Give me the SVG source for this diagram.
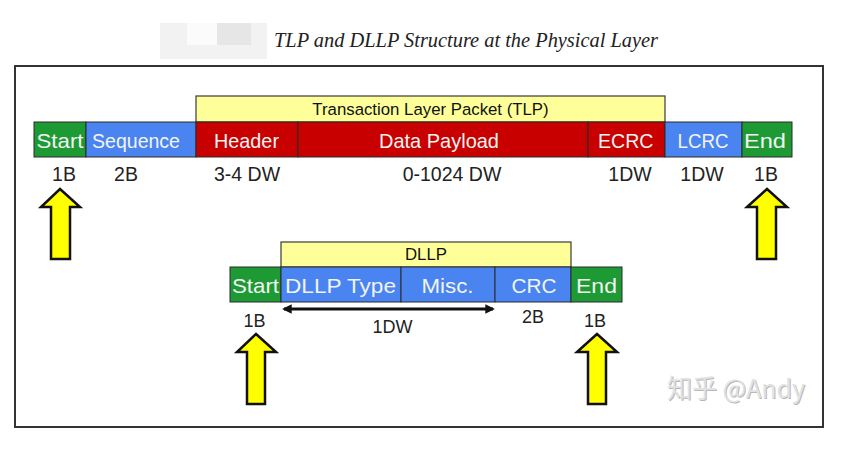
<svg xmlns="http://www.w3.org/2000/svg" width="843" height="451" viewBox="0 0 843 451">
<style>
  .cell{stroke:#2a2a2a;stroke-width:1}
  .g{fill:#1e9a34}
  .b{fill:#4a84f0}
  .r{fill:#c80000}
  .y{fill:#ffff99;stroke:#3a3a3a;stroke-width:1.2}
  .ct{font-family:"Liberation Sans",Arial,sans-serif;font-size:21px;fill:#f2f4f2}
  .hd{font-family:"Liberation Sans",Arial,sans-serif;font-size:16.8px;fill:#111}
  .lb{font-family:"Liberation Sans",Arial,sans-serif;font-size:19.5px;fill:#222;text-anchor:middle}
  .lb2{font-family:"Liberation Sans",Arial,sans-serif;font-size:18px;fill:#222;text-anchor:middle}
  .arr{fill:#ffff00;stroke:#111;stroke-width:2.5;stroke-linejoin:miter}
</style>
<defs>
  <marker id="ah" viewBox="0 0 10 10" refX="8" refY="5" markerWidth="3.2" markerHeight="3.2" orient="auto-start-reverse">
    <path d="M0,0 L10,5 L0,10 z" fill="#111"/>
  </marker>
</defs>
<rect width="843" height="451" fill="#ffffff"/>

<g id="title">
  <rect x="160" y="23" width="107" height="36" fill="#f2f2f2"/>
  <rect x="187" y="23" width="30" height="22" fill="#fbfbfb"/>
  <rect x="217" y="23" width="34" height="22" fill="#e6e6e6"/>
  <text x="274" y="47" font-family="'Liberation Serif','DejaVu Serif',serif" font-style="italic" font-size="22" fill="#222" textLength="384" lengthAdjust="spacingAndGlyphs">TLP and DLLP Structure at the Physical Layer</text>
</g>

<rect id="frame" x="15" y="66" width="808" height="361" fill="none" stroke="#333" stroke-width="2"/>

<g id="tlp">
  <g id="tlp-header">
    <rect class="y" x="196" y="96" width="469" height="26"/>
    <text class="hd" x="430.5" y="115" text-anchor="middle">Transaction Layer Packet (TLP)</text>
  </g>
  <g id="tlp-start"><rect class="cell g" x="34" y="122" width="52" height="35"/><text class="ct" x="36.5" y="147.5" textLength="47" lengthAdjust="spacingAndGlyphs">Start</text></g>
  <g id="tlp-sequence"><rect class="cell b" x="86" y="122" width="110" height="35"/><text class="ct" x="92" y="147.5" textLength="88" lengthAdjust="spacingAndGlyphs">Sequence</text></g>
  <g id="tlp-hdr"><rect class="cell r" x="196" y="122" width="102" height="35"/><text class="ct" x="214" y="147.5" textLength="65" lengthAdjust="spacingAndGlyphs">Header</text></g>
  <g id="tlp-payload"><rect class="cell r" x="298" y="122" width="290" height="35"/><text class="ct" x="379" y="147.5" textLength="120" lengthAdjust="spacingAndGlyphs">Data Payload</text></g>
  <g id="tlp-ecrc"><rect class="cell r" x="588" y="122" width="77" height="35"/><text class="ct" x="598" y="147.5" textLength="55.5" lengthAdjust="spacingAndGlyphs">ECRC</text></g>
  <g id="tlp-lcrc"><rect class="cell b" x="665" y="122" width="77" height="35"/><text class="ct" x="677.5" y="147.5" textLength="51" lengthAdjust="spacingAndGlyphs">LCRC</text></g>
  <g id="tlp-end"><rect class="cell g" x="742" y="122" width="50" height="35"/><text class="ct" x="744" y="147.5" textLength="42" lengthAdjust="spacingAndGlyphs">End</text></g>
  <g id="tlp-sizes">
    <text class="lb" x="64" y="181">1B</text>
    <text class="lb" x="126" y="181">2B</text>
    <text class="lb" x="247" y="181">3-4 DW</text>
    <text class="lb" x="452" y="181">0-1024 DW</text>
    <text class="lb" x="630" y="181">1DW</text>
    <text class="lb" x="702" y="181">1DW</text>
    <text class="lb" x="766" y="181">1B</text>
  </g>
</g>

<g id="dllp">
  <g id="dllp-header">
    <rect class="y" x="281" y="242" width="290" height="25"/>
    <text class="hd" x="426" y="260" text-anchor="middle">DLLP</text>
  </g>
  <g id="dllp-start"><rect class="cell g" x="230" y="267" width="51" height="35"/><text class="ct" x="232" y="293" textLength="47" lengthAdjust="spacingAndGlyphs">Start</text></g>
  <g id="dllp-type"><rect class="cell b" x="281" y="267" width="120" height="35"/><text class="ct" x="285" y="293" textLength="111" lengthAdjust="spacingAndGlyphs">DLLP Type</text></g>
  <g id="dllp-misc"><rect class="cell b" x="401" y="267" width="94" height="35"/><text class="ct" x="421.5" y="293" textLength="52" lengthAdjust="spacingAndGlyphs">Misc.</text></g>
  <g id="dllp-crc"><rect class="cell b" x="495" y="267" width="76" height="35"/><text class="ct" x="511.5" y="293" textLength="45" lengthAdjust="spacingAndGlyphs">CRC</text></g>
  <g id="dllp-end"><rect class="cell g" x="571" y="267" width="51" height="35"/><text class="ct" x="576" y="293" textLength="41" lengthAdjust="spacingAndGlyphs">End</text></g>
  <g id="dllp-sizes">
    <text class="lb2" x="254.5" y="327">1B</text>
    <text class="lb2" x="392.5" y="333">1DW</text>
    <text class="lb2" x="533" y="323">2B</text>
    <text class="lb2" x="595" y="327">1B</text>
  </g>
</g>

<g id="connectors">
  <line x1="284" y1="309" x2="493" y2="309" stroke="#111" stroke-width="3" marker-start="url(#ah)" marker-end="url(#ah)"/>
  <path class="arr" d="M60,189 L80,207 L70,207 L70,259 L51,259 L51,207 L41,207 Z"/>
  <path class="arr" d="M767,189 L787,207 L776,207 L776,259 L757,259 L757,207 L747,207 Z"/>
  <path class="arr" d="M256,334 L276,352 L265,352 L265,404 L247,404 L247,352 L237,352 Z"/>
  <path class="arr" d="M597,334 L617,352 L606,352 L606,404 L588,404 L588,352 L577,352 Z"/>
</g>

<g id="watermark">
  <text x="668" y="399" font-family="'Noto Sans CJK SC','Liberation Sans',sans-serif" font-size="26" fill="#b8b8b8" textLength="138" lengthAdjust="spacingAndGlyphs">知乎 @Andy</text>
  <text x="667" y="398" font-family="'Noto Sans CJK SC','Liberation Sans',sans-serif" font-size="26" fill="#e2e2e2" textLength="138" lengthAdjust="spacingAndGlyphs">知乎 @Andy</text>
</g>
</svg>
